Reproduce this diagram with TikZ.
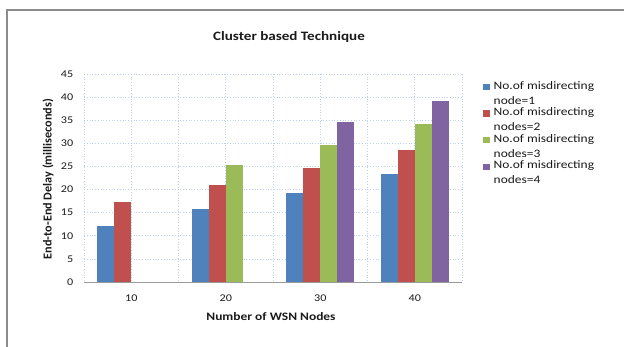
\documentclass[tikz,border=0pt]{standalone}
\usepackage{fontspec}
\setmainfont{Carlito}[FakeStretch=1.18]
\newfontfamily\plainf{Carlito}
\definecolor{sblue}{HTML}{4F81BD}
\definecolor{sred}{HTML}{C0504D}
\definecolor{sgreen}{HTML}{9BBB59}
\definecolor{spurple}{HTML}{8064A2}
\definecolor{gridc}{HTML}{BFD0F0}
\definecolor{framec}{HTML}{8C8C8C}
\definecolor{txt}{HTML}{1A1A1A}
\tikzset{
  gridline/.style={draw=gridc, dotted, line width=0.75pt},
  tick/.style={font=\fontsize{10.3}{11}\selectfont, text=txt, inner sep=0pt},
  legtext/.style={font=\fontsize{11.4}{14.7}\selectfont, text=txt, inner sep=0pt, anchor=west, align=left},
  legbox/.style={minimum width=7pt, minimum height=6.5pt, inner sep=0pt},
  bar/.style={draw=none},
}
\begin{document}
\begin{tikzpicture}[x=1pt,y=-1pt]
\useasboundingbox (0,0) rectangle (624,347);
% frame
\draw[framec, line width=1.4pt] (7,348) -- (7,10) -- (625,10);
% title
\node[font=\bfseries\fontsize{12.8}{14}\selectfont, text=txt] (title) at (289,37) {Cluster based Technique};
% grid
\foreach \i in {1,...,9} {
  \draw[gridline] (84,{282-\i*208/9}) -- (462,{282-\i*208/9});
}
\foreach \i in {0,...,8} {
  \draw[gridline] ({84+\i*47.25},74) -- ({84+\i*47.25},282);
}
% bars
\foreach \k/\va/\vb/\vc/\vd in {1/12.2/17.2/0/0, 2/15.9/21.0/25.4/0, 3/19.2/24.7/29.7/34.6, 4/23.4/28.6/34.1/39.2} {
  \pgfmathsetmacro{\c}{84+47.25*(2*\k-1)}
  \path[bar, fill=sblue]   ({\c-34},282) rectangle ({\c-17},{282-\va*208/45});
  \path[bar, fill=sred]    ({\c-17},282) rectangle ({\c},{282-\vb*208/45});
  \path[bar, fill=sgreen]  ({\c},282) rectangle ({\c+17},{282-\vc*208/45});
  \path[bar, fill=spurple] ({\c+17},282) rectangle ({\c+34},{282-\vd*208/45});
}
% x axis
\coordinate (xa) at (84,282);
\coordinate (xb) at (462,282);
\draw[draw=gray!80, line width=0.8pt] (xa) -- (xb);
% y tick labels
\foreach \v in {0,5,...,45} {
  \node[tick, anchor=east] (y\v) at (73.5,{282-\v*208/45}) {\v};
}
% x tick labels
\foreach \k/\lab in {1/10,2/20,3/30,4/40} {
  \node[tick] (x\lab) at ({84+47.25*(2*\k-1)},298) {\lab};
}
% axis titles
\node[font=\bfseries\fontsize{11.4}{13}\selectfont, text=txt] (xtitle) at (271,317) {Number of WSN Nodes};
\node[font=\plainf\bfseries\fontsize{12.2}{14}\selectfont, text=txt, rotate=90] (ytitle) at (48,179) {End-to-End Delay (milliseconds)};
% legend
\foreach \j/\col/\lab in {0/sblue/{node=1}, 1/sred/{nodes=2}, 2/sgreen/{nodes=3}, 3/spurple/{nodes=4}} {
  \node[legbox, fill=\col] (lb\j) at (486,{87+26.6*\j}) {};
  \node[legtext, anchor=north west] (lt\j) at (493.5,{87+26.6*\j-6}) {No.of misdirecting\\[0.2pt]\lab};
}
\end{tikzpicture}
\end{document}
